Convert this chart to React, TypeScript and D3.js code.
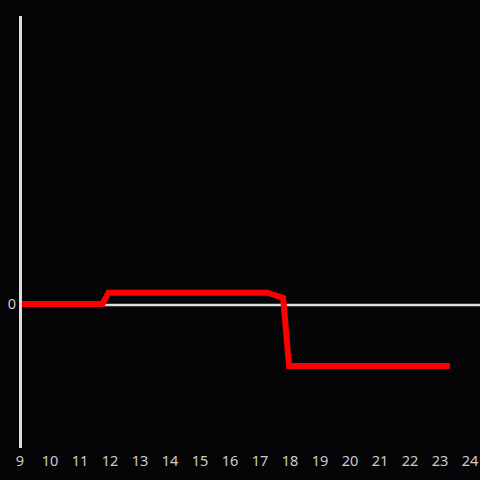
import React from "react";
import * as d3 from "d3";

const hours = [9, 11.75, 11.95, 17.25, 17.77, 17.97, 23.33];
const values = [0, 0, 0.078, 0.078, 0.042, -0.43, -0.43];
const xTicks = [9, 10, 11, 12, 13, 14, 15, 16, 17, 18, 19, 20, 21, 22, 23, 24];
const yTicks = [0];

export default function App() {
  const W = 480, H = 480;
  const x = d3.scaleLinear().domain([9, 24]).range([20, 470]);
  const y = d3.scaleLinear().domain([-1, 2]).range([448, 16]);
  const pts: [number, number][] = hours.map((h, i) => [h, values[i]]);
  const line = d3.line<[number, number]>().x(d => x(d[0])).y(d => y(d[1]));
  return (
    <svg width={W} height={H} style={{ position: "absolute", left: 0, top: 0, background: "#050407" }}>
      <rect x={0} y={0} width={W} height={H} fill="#050407" />
      {yTicks.map(t => (
        <g key={t}>
          <line x1={20} x2={480} y1={y(t) + 1} y2={y(t) + 1} stroke="#dddddd" strokeWidth={2.5} />
          <text x={16} y={y(t) + 5} textAnchor="end" fill="#cccccc" fontSize={14.5} fontFamily="Noto Sans">{t}</text>
        </g>
      ))}
      {xTicks.map(t => (
        <text key={t} x={x(t)} y={466} textAnchor="middle" fill="#cccccc" fontSize={14.5} fontFamily="Noto Sans">{t}</text>
      ))}
      <path d={line(pts) || ""} fill="none" stroke="#ff0000" strokeWidth={6} strokeLinejoin="miter" />
      <line x1={20.5} x2={20.5} y1={16} y2={448} stroke="#dddddd" strokeWidth={3} />
    </svg>
  );
}
